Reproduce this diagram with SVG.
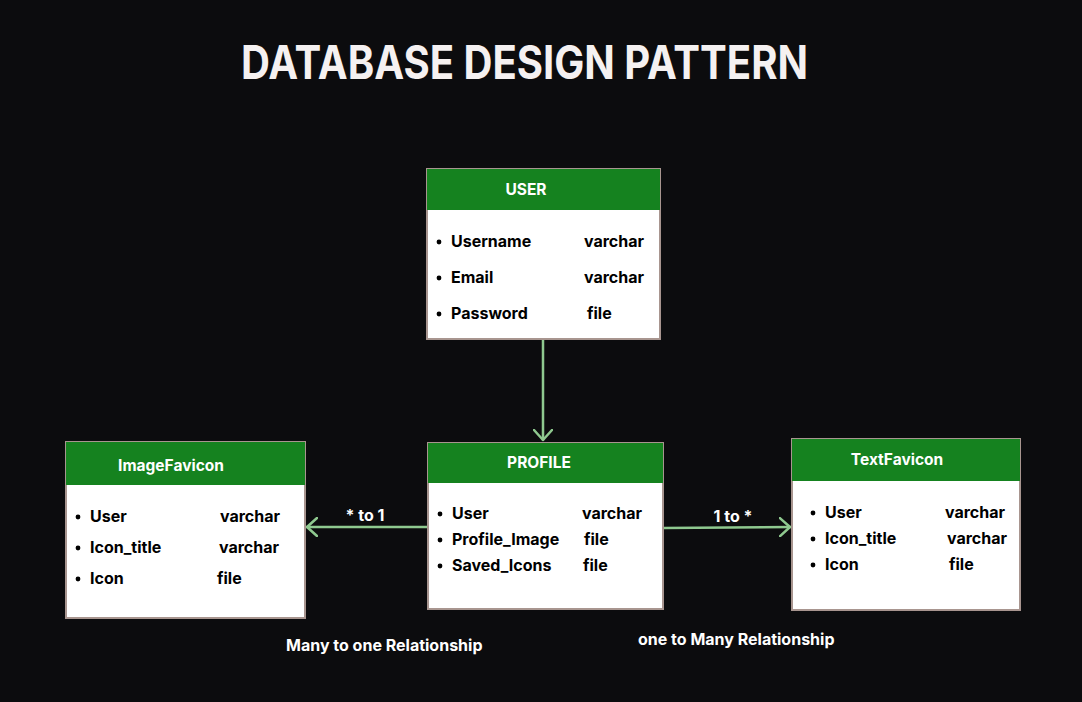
<svg xmlns="http://www.w3.org/2000/svg" width="1082" height="702" viewBox="0 0 1082 702">
<style>
.hd{fill:#15821f}
.bd{fill:#ffffff;stroke:#a8958f;stroke-width:2}
.t{font-family:Inter,"Liberation Sans",sans-serif;font-weight:700;font-size:16px;fill:#000}
.h{font-family:Inter,"Liberation Sans",sans-serif;font-weight:700;font-size:15.5px;fill:#ffffff}
.w{font-family:Inter,"Liberation Sans",sans-serif;font-weight:700;font-size:16px;fill:#ffffff}
.c{stroke:#8fc98f;stroke-width:2.5;fill:none;stroke-linecap:round;stroke-linejoin:round}
</style>
<defs>
<marker id="ah" viewBox="0 0 12 20" refX="11" refY="10" markerWidth="12" markerHeight="20" markerUnits="userSpaceOnUse" orient="auto">
<path d="M1,1 L11,10 L1,19" fill="none" stroke="#8fc98f" stroke-width="2.5" stroke-linecap="round" stroke-linejoin="round"/>
</marker>
</defs>
<rect width="1082" height="702" fill="#0c0c0e"/>
<text x="241" y="79" font-family="Inter,'Liberation Sans',sans-serif" font-weight="700" font-size="46" fill="#f5f1f1" textLength="567" lengthAdjust="spacingAndGlyphs">DATABASE DESIGN PATTERN</text>

<g id="connectors">
<line class="c" x1="543" y1="340" x2="543" y2="440" marker-end="url(#ah)"/>
<line class="c" x1="428" y1="527" x2="307" y2="527" marker-end="url(#ah)"/>
<line class="c" x1="663" y1="528" x2="790" y2="527" marker-end="url(#ah)"/>
<text class="w" x="365" y="521" text-anchor="middle">* to 1</text>
<text class="w" x="733" y="522" text-anchor="middle">1 to *</text>
</g>

<g id="user">
<rect class="bd" x="427" y="169" width="233" height="170"/>
<rect class="hd" x="427" y="169" width="233" height="41"/>
<text class="h" x="526" y="195" text-anchor="middle">USER</text>
<circle cx="439" cy="242" r="2.4"/><text class="t" x="451" y="247">Username</text><text class="t" x="584" y="247">varchar</text>
<circle cx="439" cy="278" r="2.4"/><text class="t" x="451" y="283">Email</text><text class="t" x="584" y="283">varchar</text>
<circle cx="439" cy="314" r="2.4"/><text class="t" x="451" y="319">Password</text><text class="t" x="587" y="319">file</text>
</g>

<g id="profile">
<rect class="bd" x="428" y="443" width="235" height="166"/>
<rect class="hd" x="428" y="443" width="235" height="40"/>
<text class="h" x="539" y="468" text-anchor="middle">PROFILE</text>
<circle cx="440" cy="514" r="2.4"/><text class="t" x="452" y="519">User</text><text class="t" x="582" y="519">varchar</text>
<circle cx="440" cy="540" r="2.4"/><text class="t" x="452" y="545">Profile_Image</text><text class="t" x="584" y="545">file</text>
<circle cx="440" cy="566" r="2.4"/><text class="t" x="452" y="571">Saved_Icons</text><text class="t" x="583" y="571">file</text>
</g>

<g id="imagefavicon">
<rect class="bd" x="66" y="442" width="239" height="176"/>
<rect class="hd" x="66" y="442" width="239" height="43"/>
<text class="h" x="171" y="471" text-anchor="middle">ImageFavicon</text>
<circle cx="78" cy="517" r="2.4"/><text class="t" x="90" y="522">User</text><text class="t" x="220" y="522">varchar</text>
<circle cx="78" cy="548" r="2.4"/><text class="t" x="90" y="553">Icon_title</text><text class="t" x="219" y="553">varchar</text>
<circle cx="78" cy="579" r="2.4"/><text class="t" x="90" y="584">Icon</text><text class="t" x="217" y="584">file</text>
</g>

<g id="textfavicon">
<rect class="bd" x="792" y="439" width="228" height="171"/>
<rect class="hd" x="792" y="439" width="228" height="42"/>
<text class="h" x="897" y="465" text-anchor="middle">TextFavicon</text>
<circle cx="813" cy="513" r="2.4"/><text class="t" x="825" y="518">User</text><text class="t" x="945" y="518">varchar</text>
<circle cx="813" cy="539" r="2.4"/><text class="t" x="825" y="544">Icon_title</text><text class="t" x="947" y="544">varchar</text>
<circle cx="813" cy="565" r="2.4"/><text class="t" x="825" y="570">Icon</text><text class="t" x="949" y="570">file</text>
</g>

<text class="w" x="286" y="651">Many to one Relationship</text>
<text class="w" x="638" y="645">one to Many Relationship</text>
</svg>
